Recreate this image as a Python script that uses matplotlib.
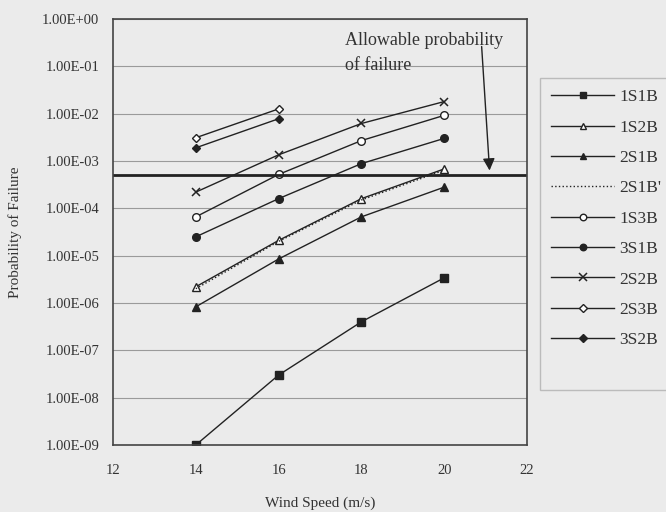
import numpy as np
import matplotlib.pyplot as plt
from matplotlib.patches import Rectangle
from matplotlib.ticker import FixedLocator, NullLocator

plt.rcParams['font.family'] = ['Liberation Serif', 'DejaVu Serif']

# wind speed (m/s)
speed = [14, 16, 18, 20]
speed_short = [14, 16]

p_1s1b = [1.0e-9, 3.0e-8, 4.0e-7, 3.4e-6]
p_1s2b = [2.2e-6, 2.1e-5, 1.6e-4, 6.8e-4]
p_2s1b = [8.3e-7, 8.5e-6, 6.6e-5, 2.8e-4]
p_2s1b_dash = [2.0e-6, 2.0e-5, 1.5e-4, 6.4e-4]
p_1s3b = [6.6e-5, 5.2e-4, 2.7e-3, 9.2e-3]
p_3s1b = [2.5e-5, 1.6e-4, 8.8e-4, 3.0e-3]
p_2s2b = [2.2e-4, 1.35e-3, 6.2e-3, 1.8e-2]
p_2s3b = [3.1e-3, 1.26e-2]
p_3s2b = [1.9e-3, 7.8e-3]

allowable = 5.0e-4

ytick_labels = ['1.00E-09', '1.00E-08', '1.00E-07', '1.00E-06', '1.00E-05',
                '1.00E-04', '1.00E-03', '1.00E-02', '1.00E-01', '1.00E+00']

bg = '#ebebeb'
fig = plt.figure(figsize=(6.66, 5.12), dpi=100)
fig.patch.set_facecolor(bg)
ax = fig.add_axes([0.1697, 0.1309, 0.6216, 0.832])
ax.set_facecolor(bg)

k = '#222222'
lw = 1.0
ms = 5.5
ax.plot(speed, p_1s1b, '-', color=k, lw=lw, marker='s', ms=ms, mfc=k, label='1S1B')
ax.plot(speed, p_1s2b, '-', color=k, lw=lw, marker='^', ms=ms, mfc='white', label='1S2B')
ax.plot(speed, p_2s1b, '-', color=k, lw=lw, marker='^', ms=ms, mfc=k, label='2S1B')
ax.plot(speed, p_2s1b_dash, ':', color=k, lw=1.0, label="2S1B'")
ax.plot(speed, p_1s3b, '-', color=k, lw=lw, marker='o', ms=ms, mfc='white', label='1S3B')
ax.plot(speed, p_3s1b, '-', color=k, lw=lw, marker='o', ms=ms, mfc=k, label='3S1B')
ax.plot(speed, p_2s2b, '-', color=k, lw=lw, marker='x', ms=6, mew=1.1, label='2S2B')
ax.plot(speed_short, p_2s3b, '-', color=k, lw=lw, marker='D', ms=4.5, mfc='white', label='2S3B')
ax.plot(speed_short, p_3s2b, '-', color=k, lw=lw, marker='D', ms=4.5, mfc=k, label='3S2B')

ax.axhline(allowable, color=k, lw=2.0)

ax.set_yscale('log')
ax.set_ylim(1e-9, 1e0)
ax.set_xlim(12, 22)
ax.set_xticks([12, 14, 16, 18, 20, 22])
ax.yaxis.set_major_locator(FixedLocator([10.0 ** e for e in range(-9, 1)]))
ax.yaxis.set_minor_locator(NullLocator())
ax.set_yticklabels(ytick_labels)
ax.tick_params(length=0, labelsize=10.5, colors='#333333')
ax.tick_params(axis='x', pad=14)
ax.tick_params(axis='y', pad=10)
ax.grid(axis='y', color='#9a9a9a', lw=0.8)
for s in ax.spines.values():
    s.set_color('#444444')
    s.set_linewidth(1.2)

ax.set_xlabel('Wind Speed (m/s)', fontsize=11, color='#333333', labelpad=14)
ax.set_ylabel('Probability of Failure', fontsize=11, color='#333333', labelpad=14)

ax.text(0.56, 0.97, 'Allowable probability\nof failure', transform=ax.transAxes,
        fontsize=13, color='#333333', va='top', ha='left', linespacing=1.6)
ax.annotate('', xy=(21.1, 5.5e-4), xytext=(20.9, 0.3),
            arrowprops=dict(arrowstyle='-|>', color=k, lw=1.0, mutation_scale=18))

# legend frame drawn separately so it can be taller than its entries
fig.patches.append(Rectangle((540 / 666, 1 - 390 / 512), 0.25, 312 / 512,
                             transform=fig.transFigure, facecolor=bg,
                             edgecolor='#bbbbbb', lw=1.0, zorder=0))
leg = fig.legend(loc='upper left', bbox_to_anchor=(0.815, 0.843), fontsize=12.5,
                 frameon=False, handlelength=3.6, labelspacing=0.82,
                 borderpad=0.5, handletextpad=0.3, borderaxespad=0, markerscale=0.85)
for t in leg.get_texts():
    t.set_color('#333333')

fig.savefig('out.png', dpi=100, facecolor=fig.get_facecolor())
